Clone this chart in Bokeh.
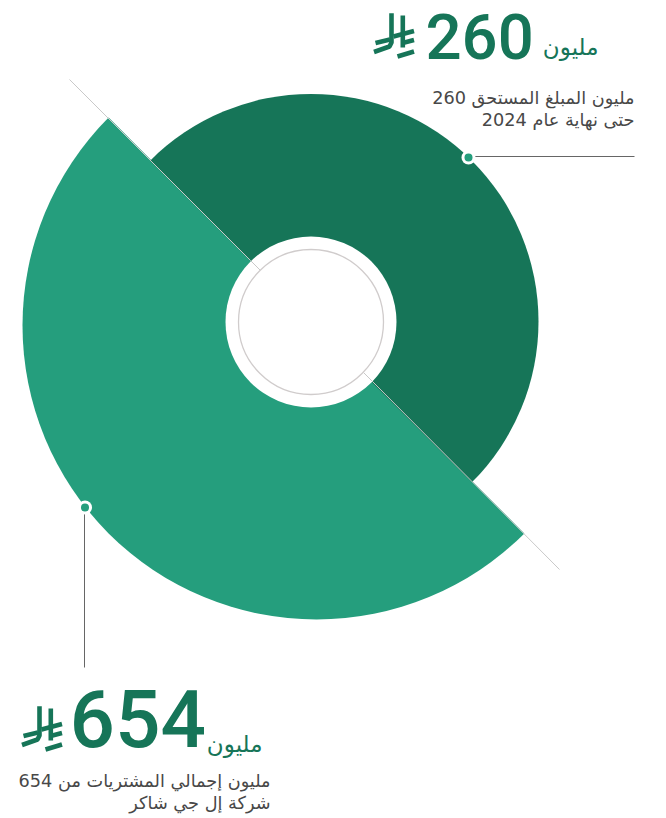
from bokeh.plotting import figure
from bokeh.embed import file_html
from bokeh.resources import INLINE
from bokeh.models import Range1d
from bokeh.core.properties import value
import math

# data
values = [260, 654]
value_labels = ["260", "654"]
unit_label = "مليون"
captions_dark = ["260 مليون المبلغ المستحق", "حتى نهاية عام 2024"]
captions_light = ["654 مليون إجمالي المشتريات من", "شركة إل جي شاكر"]

W, H = 666, 818
DARK = "#167558"
LIGHT = "#259E7D"
AR = "DejaVu Sans"


def X(px):
    return px


def Y(py):
    return H - py


p = figure(width=W, height=H, output_backend="svg", toolbar_location=None,
           x_range=Range1d(0, W), y_range=Range1d(0, H), min_border=0)
p.axis.visible = False
p.grid.visible = False
p.outline_line_color = None
p.background_fill_color = "white"
p.border_fill_color = "white"

p.wedge(x=[X(316)], y=[Y(325)], radius=294, start_angle=math.radians(135), end_angle=math.radians(315),
        fill_color=LIGHT, line_color=None)
p.wedge(x=[X(310.5)], y=[Y(321)], radius=227.5, start_angle=math.radians(-45), end_angle=math.radians(135),
        fill_color=DARK, line_color=None)

p.line([X(69), X(250)], [Y(79), Y(260)], line_color="#c9c9c9", line_width=1)
p.line([X(372), X(559)], [Y(381), Y(569)], line_color="#c9c9c9", line_width=1)

p.circle(x=[X(310.5)], y=[Y(321.5)], radius=85.5, fill_color="white", line_color=None)
p.line([X(250), X(260)], [Y(260), Y(270)], line_color="#c9c9c9", line_width=1)
p.line([X(363), X(372)], [Y(372), Y(381)], line_color="#c9c9c9", line_width=1)
p.circle(x=[X(310.5)], y=[Y(321.5)], radius=72.5, fill_color="white", line_color="#d0cccc", line_width=1.3)

# leaders
p.line([X(468), X(634)], [Y(156), Y(156)], line_color="#666666", line_width=1)
p.line([X(84), X(84)], [Y(507), Y(667)], line_color="#666666", line_width=1)
p.scatter(x=[X(468), X(84.5)], y=[Y(157), Y(507)], size=14, marker="circle", fill_color="white", line_color=None)
p.scatter(x=[X(468), X(84.5)], y=[Y(157), Y(507)], size=8, marker="circle", fill_color=LIGHT, line_color=None)


def txt(px, py, s, size, color, align="left", font="Roboto", weight="normal"):
    py = py - 0.37 * size
    p.text(x=[X(px)], y=[Y(py)], text=[s], text_font=value(font), text_font_size=f"{size}px",
           text_color=color, text_align=align, text_baseline="alphabetic", text_font_style=weight)


RIYAL = [
    [(18, 0.7), (18, 30), (16, 34), (0.5, 39.5)],
    [(2, 30.5), (16.5, 27)],
    [(29.3, 3), (29.3, 35)],
    [(20, 24), (40.5, 18.5)],
    [(31, 30), (40.5, 27.5)],
    [(24, 44), (40.5, 39)],
]


def riyal(ox, oy):
    p.multi_line(xs=[[X(ox + a) for a, _ in s] for s in RIYAL],
                 ys=[[Y(oy + b) for _, b in s] for s in RIYAL],
                 line_color=DARK, line_width=4.6)


riyal(373, 12)
riyal(21, 705)

txt(425, 59, value_labels[0], 63.5, DARK, font="Roboto Medium")
txt(69, 748, value_labels[1], 80, DARK, font="Roboto Medium")
txt(598, 55, unit_label, 23, DARK, "right", AR)
txt(262, 752, unit_label, 23, DARK, "right", AR)
txt(634, 104, captions_dark[0], 17.7, "#484848", "right", AR)
txt(634, 126, captions_dark[1], 17.7, "#484848", "right", AR)
txt(270, 787, captions_light[0], 17.7, "#484848", "right", AR)
txt(270, 809, captions_light[1], 17.7, "#484848", "right", AR)

open("out.html", "w").write(file_html(p, INLINE))
